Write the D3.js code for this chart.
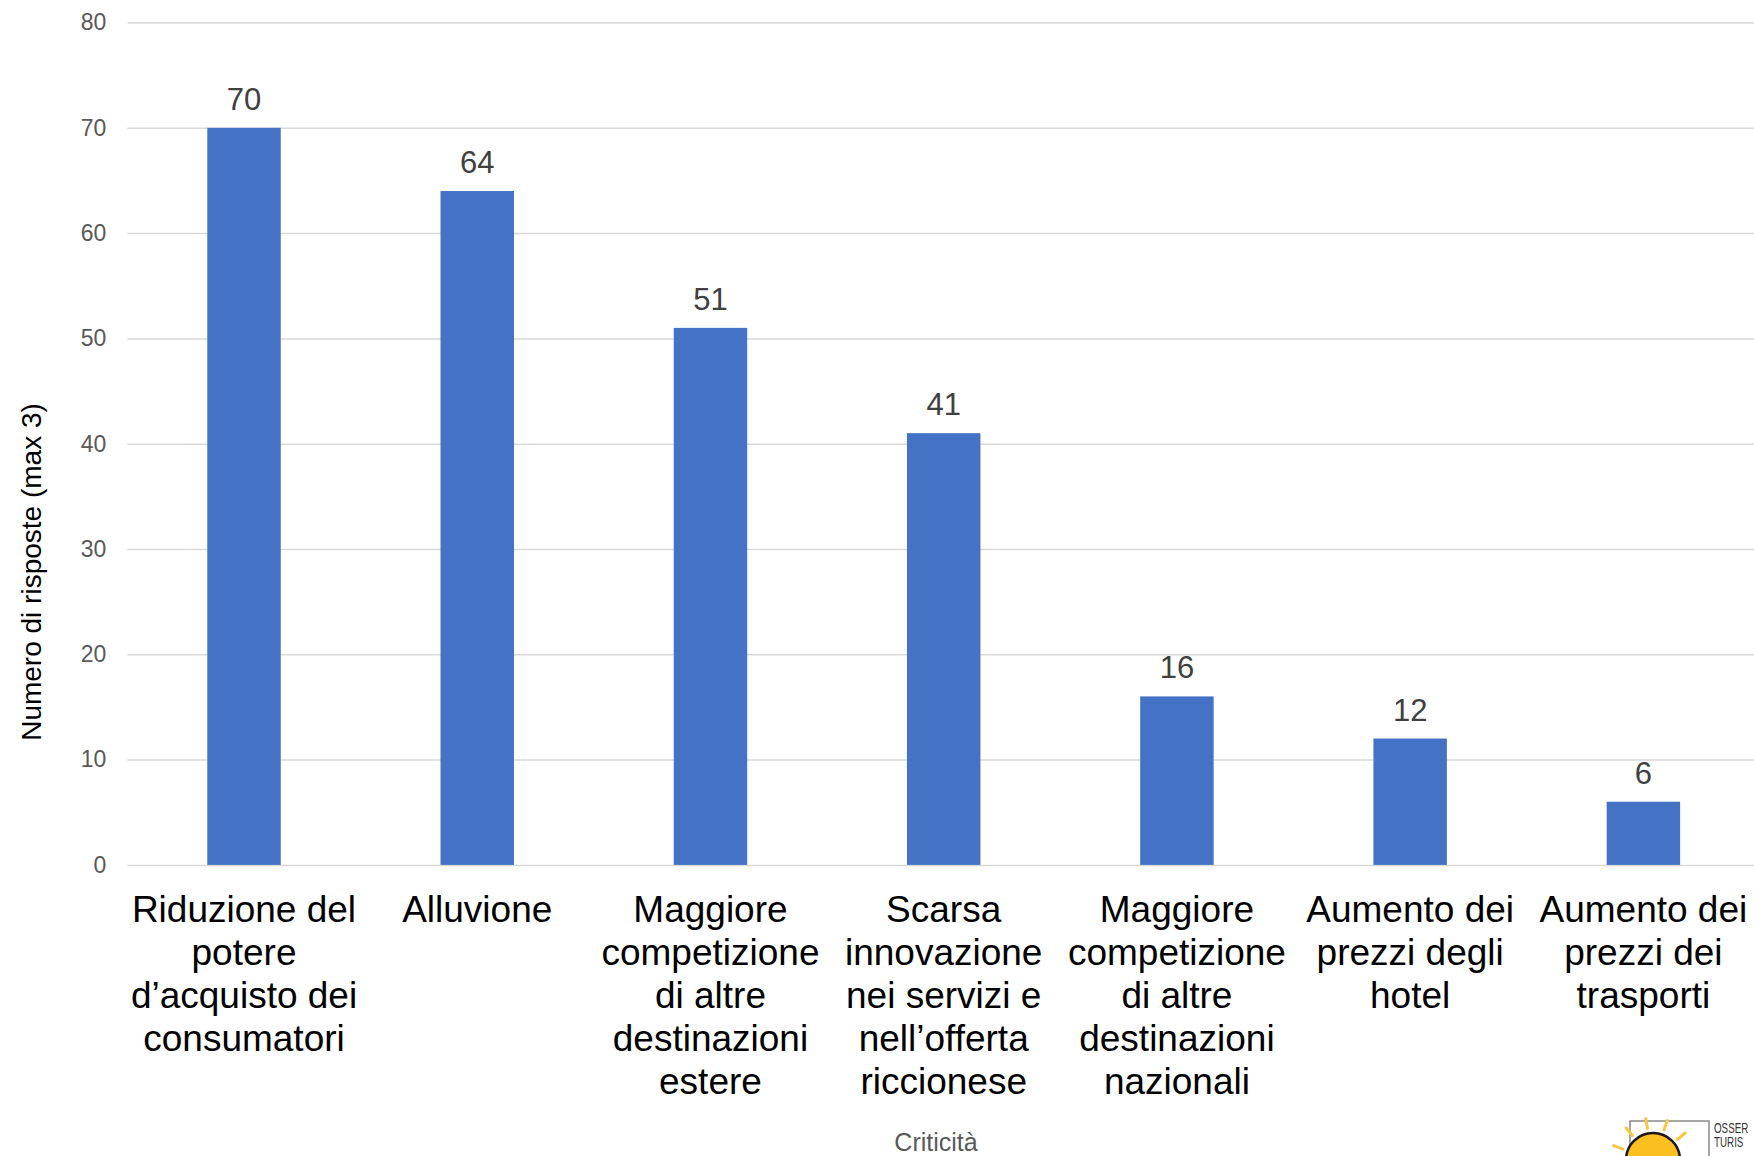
<!DOCTYPE html>
<html>
<head>
<meta charset="utf-8">
<script src="https://cdn.jsdelivr.net/npm/d3@7"></script>
<style>
  html, body { margin: 0; padding: 0; background: #fff; overflow: hidden; }
  svg { display: block; font-family: "Liberation Sans", Arial, sans-serif; }
</style>
</head>
<body>
<svg id="chart" width="1754" height="1156"></svg>
<script>
// ---- data ----
const categories = [
  "Riduzione del\npotere\nd’acquisto dei\nconsumatori",
  "Alluvione",
  "Maggiore\ncompetizione\ndi altre\ndestinazioni\nestere",
  "Scarsa\ninnovazione\nnei servizi e\nnell’offerta\nriccionese",
  "Maggiore\ncompetizione\ndi altre\ndestinazioni\nnazionali",
  "Aumento dei\nprezzi degli\nhotel",
  "Aumento dei\nprezzi dei\ntrasporti"
];
const values = [70, 64, 51, 41, 16, 12, 6];
const yTicks = [0, 10, 20, 30, 40, 50, 60, 70, 80];
const yTitle = "Numero di risposte (max 3)";
const xTitle = "Criticità";
const logoLines = ["OSSER", "TURIS"];

// ---- layout ----
const svg = d3.select("#chart");
const plotLeft = 127.4, plotRight = 1760, plotTop = 22.5, plotBottom = 864.9;

const x = d3.scaleBand().domain(categories).range([plotLeft, plotRight])
  .paddingInner(0.685).paddingOuter(0.3425);
const y = d3.scaleLinear().domain([0, 80]).range([plotBottom, plotTop]);

// gridlines + y tick labels
const yAxis = d3.axisLeft(y).tickValues(yTicks)
  .tickSizeInner(-(plotRight - plotLeft)).tickSizeOuter(0).tickPadding(21);
const gy = svg.append("g").attr("transform", `translate(${plotLeft},0)`).call(yAxis);
gy.select(".domain").remove();
gy.selectAll(".tick line").attr("stroke", "#d9d9d9").attr("stroke-width", 1.5);
gy.selectAll(".tick text").attr("fill", "#595959").attr("font-size", 23)
  .attr("font-family", "'Liberation Sans', Arial, sans-serif");

// bars
svg.append("g").selectAll("rect").data(values).join("rect")
  .attr("x", (d, i) => x(categories[i]))
  .attr("width", x.bandwidth())
  .attr("y", d => y(d))
  .attr("height", d => y(0) - y(d))
  .attr("fill", "#4472C4");

// data labels
svg.append("g").selectAll("text").data(values).join("text")
  .attr("x", (d, i) => x(categories[i]) + x.bandwidth() / 2)
  .attr("y", d => y(d) - 18)
  .attr("text-anchor", "middle")
  .attr("font-size", 31)
  .attr("fill", "#404040")
  .text(d => d);

// x category labels
const xl = svg.append("g").selectAll("text").data(categories).join("text")
  .attr("text-anchor", "middle")
  .attr("font-size", 37)
  .attr("fill", "#000");
xl.each(function(c) {
  const t = d3.select(this);
  c.split("\n").forEach((line, j) => {
    t.append("tspan")
      .attr("x", x(c) + x.bandwidth() / 2)
      .attr("y", y(0) + 57 + j * 43)
      .text(line);
  });
});

// axis titles
svg.append("text")
  .attr("transform", `translate(41,572) rotate(-90)`)
  .attr("text-anchor", "middle")
  .attr("font-size", 28)
  .attr("fill", "#000")
  .text(yTitle);

svg.append("text")
  .attr("x", 936).attr("y", 1151)
  .attr("text-anchor", "middle")
  .attr("font-size", 25)
  .attr("fill", "#595959")
  .text(xTitle);

// logo (partially visible, bottom-right)
const logo = svg.append("g");
logo.append("rect").attr("x", 1630).attr("y", 1121).attr("width", 79).attr("height", 60)
  .attr("fill", "none").attr("stroke", "#8a8a8a").attr("stroke-width", 1.5);
const rays = [200, 230, 260, 290, 320];
rays.forEach(a => {
  const r = a * Math.PI / 180;
  logo.append("line")
    .attr("x1", 1653 + Math.cos(r) * 32).attr("y1", 1160 + Math.sin(r) * 32)
    .attr("x2", 1653 + Math.cos(r) * 42).attr("y2", 1160 + Math.sin(r) * 42)
    .attr("stroke", "#f5c842").attr("stroke-width", 3).attr("stroke-linecap", "round");
});
logo.append("circle").attr("cx", 1653).attr("cy", 1160).attr("r", 27)
  .attr("fill", "#fbbf1f").attr("stroke", "#1a1a1a").attr("stroke-width", 2.5);
logoLines.forEach((t, i) => {
  logo.append("g").attr("transform", `translate(1714,${1133 + i * 14}) scale(0.7,1)`)
    .append("text").attr("x", 0).attr("y", 0).attr("font-size", 14)
    .attr("fill", "#333").text(t);
});
</script>
</body>
</html>
